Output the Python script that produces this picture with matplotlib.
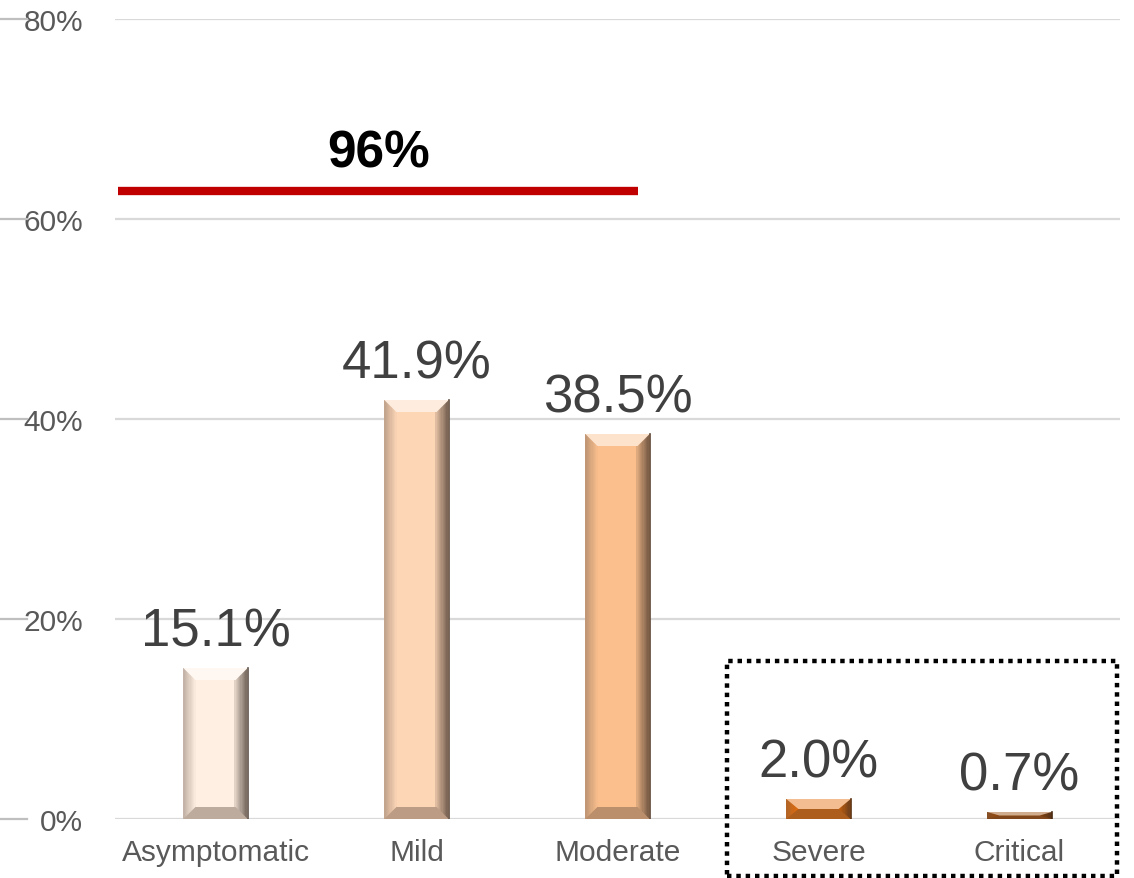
import matplotlib.pyplot as plt
import matplotlib.colors as mcolors
from matplotlib.patches import Polygon, Rectangle
from matplotlib.transforms import blended_transform_factory

plt.rcParams['font.family'] = ['Liberation Sans', 'DejaVu Sans']

categories = ['Asymptomatic', 'Mild', 'Moderate', 'Severe', 'Critical']
shares = [15.1, 41.9, 38.5, 2.0, 0.7]
bar_colors = ['#FFEFE2', '#FDD6B6', '#FBBF8D', '#E46C0A', '#984807']
yticks = [0, 20, 40, 60, 80]
total_mild = 96      # asymptomatic + mild + moderate, rounded
total_line_y = 62.8

fig = plt.figure(figsize=(11.34, 8.79), dpi=100)
ax = fig.add_axes([115 / 1134, 59 / 879, 1005 / 1134, 800 / 879])
ax.set_xlim(-0.5, 4.5)
ax.set_ylim(0, 80)

for y in yticks:
    ax.axhline(y, color='#D9D9D9', lw=1.6, zorder=0)

bw = 0.32
bars = ax.bar(range(len(shares)), shares, width=bw, color=bar_colors,
              edgecolor='none', zorder=2)


def mix(c, other, t):
    a = mcolors.to_rgb(c)
    b = mcolors.to_rgb(other)
    return tuple(a[i] * (1 - t) + b[i] * t for i in range(3))


# bevelled look: top highlight, shaded sides and bottom
bx, by = 0.06, 1.2
n = 10
for bar, col in zip(bars, bar_colors):
    x0, w, h = bar.get_x(), bar.get_width(), bar.get_height()
    x1 = x0 + w
    dy = min(by, h / 2)
    dx = min(bx, w / 2)
    # side faces as thin strips, dark at the outer edge fading inwards
    for k in range(n):
        t = k / n
        ax.add_patch(Rectangle((x1 - dx * (1 - t) - dx / n, 0), dx / n + 0.002, h,
                               color=mix(col, '#3a2c24', 0.15 + 0.55 * t), lw=0, zorder=3))
        ax.add_patch(Rectangle((x0 + dx * t, 0), dx / n + 0.002, h,
                               color=mix(col, '#6b5a50', 0.4 * (1 - t)), lw=0, zorder=3))
    top = [(x0, h), (x1, h), (x1 - dx, h - dy), (x0 + dx, h - dy)]
    bot = [(x0, 0), (x1, 0), (x1 - dx, dy), (x0 + dx, dy)]
    ax.add_patch(Polygon(bot, closed=True, color=mix(col, '#5a4638', 0.4), lw=0, zorder=3))
    ax.add_patch(Polygon(top, closed=True, color=mix(col, 'white', 0.55), lw=0, zorder=3))
    ax.plot([x1, x1], [0, h], color=mix(col, '#2a1e18', 0.75), lw=1.2, zorder=4)

    ax.annotate(f'{h:.1f}%', (bar.get_x() + w / 2, h), xytext=(0, 16),
                textcoords='offset points', ha='center', va='baseline',
                fontsize=38, color='#404040', zorder=5)

# bracket over the first three groups
ax.plot([-0.485, 2.1], [total_line_y, total_line_y], color='#C00000',
        lw=6, solid_capstyle='butt', zorder=4)
ax.text(0.81, 65.2, f'{total_mild}%', ha='center', va='baseline',
        fontsize=37, fontweight='bold', color='black')

# dotted frame around severe and critical
ax.add_patch(Rectangle((2.545, -5.7), 1.94, 21.5, fill=False, ec='black',
                       lw=3.2, ls=(0, (1, 1.1)), clip_on=False, zorder=6))

ax.set_xticks(range(len(categories)))
ax.set_xticklabels(categories, fontsize=21.5, color='#595959')
ax.set_yticks(yticks)
ax.set_yticklabels([f'{v}%' for v in yticks], fontsize=21.5, color='#595959')
ax.tick_params(axis='x', length=0, pad=14)
ax.tick_params(axis='y', length=0, pad=23)

# short tick stubs at the far left edge
trans = blended_transform_factory(fig.transFigure, ax.transData)
for y in yticks:
    ax.plot([0, 27 / 1134], [y, y], color='#BFBFBF', lw=1.6,
            transform=trans, clip_on=False)

for s in ax.spines.values():
    s.set_visible(False)

fig.savefig('out.png', dpi=100)
